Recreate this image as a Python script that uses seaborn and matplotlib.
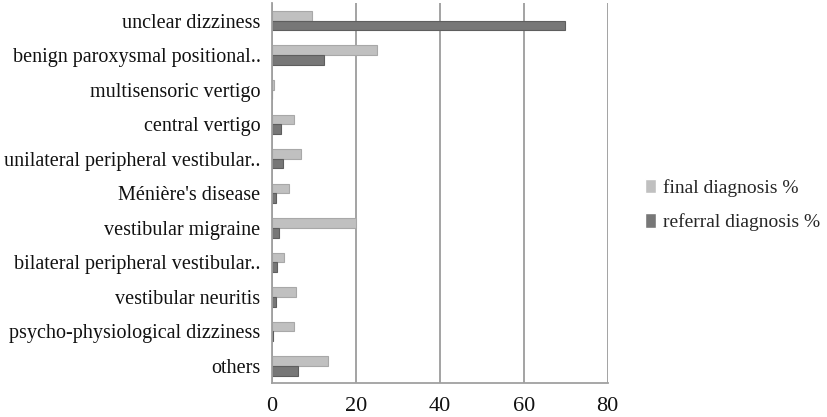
import pandas as pd
import matplotlib.pyplot as plt
import seaborn as sns
from matplotlib.ticker import FixedLocator

# Дані
categories = ['unclear dizziness', 'benign paroxysmal positional..', 'multisensoric vertigo',
              'central vertigo', 'unilateral peripheral vestibular..', "Ménière's disease",
              'vestibular migraine', 'bilateral peripheral vestibular..', 'vestibular neuritis',
              'psycho-physiological dizziness', 'others']
final_pct = [9.7, 25.0, 0.6, 5.2, 6.9, 4.1, 20.0, 2.9, 5.7, 5.3, 13.3]
referral_pct = [69.8, 12.5, 0.0, 2.2, 2.8, 1.0, 1.7, 1.2, 1.0, 0.4, 6.2]
series = ['final diagnosis %', 'referral diagnosis %']

data = pd.DataFrame({
    'category': categories * 2,
    'value': final_pct + referral_pct,
    'series': [series[0]] * len(categories) + [series[1]] * len(categories),
})

sns.set_style('white')
plt.rcParams['font.family'] = ['Liberation Serif', 'DejaVu Serif']

fig = plt.figure(figsize=(8.27, 4.17), dpi=100)
ax = fig.add_axes([0.3285, 0.0808, 0.4063, 0.9112])

sns.barplot(data=data, x='value', y='category', hue='series', hue_order=series,
            order=categories, orient='h', palette=['#c0c0c0', '#777777'],
            width=0.56, gap=0.0, ax=ax, legend=True)

for cont, ec in zip(ax.containers, ['#a8a8a8', '#5e5e5e']):
    for bar in cont:
        bar.set_edgecolor(ec)
        bar.set_linewidth(0.8)

ax.set_xlim(0, 80)
ax.set_ylim(len(categories) - 0.5, -0.5)
ax.set_xticks([0, 20, 40, 60, 80])
ax.xaxis.grid(True, color='#9c9c9c', linewidth=1.3)
ax.set_axisbelow(True)
ax.set_xlabel('')
ax.set_ylabel('')

for side in ['top', 'right']:
    ax.spines[side].set_visible(False)
for side in ['left', 'bottom']:
    ax.spines[side].set_color('#a0a0a0')
    ax.spines[side].set_linewidth(1.3)

ax.tick_params(axis='y', which='major', length=0, pad=8, labelsize=14.5, colors='#111111')
ax.yaxis.set_minor_locator(FixedLocator([i - 0.5 for i in range(len(categories) + 1)]))
ax.tick_params(axis='y', which='minor', length=5, color='#a0a0a0', width=1.2)
ax.tick_params(axis='x', length=5, color='#a0a0a0', width=1.2, labelsize=16, pad=5)
ax.tick_params(axis='x', colors='#a0a0a0', labelcolor='#111111')

ax.legend(loc='center left', bbox_to_anchor=(1.11, 0.469), frameon=False,
          fontsize=14, handlelength=0.6, handleheight=0.75, handletextpad=0.35,
          labelspacing=0.85, borderpad=0, borderaxespad=0)

fig.savefig('out.png', dpi=100)
